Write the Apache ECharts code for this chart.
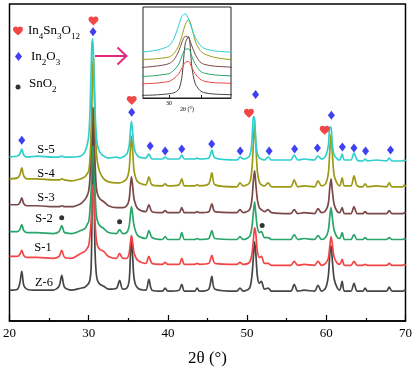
<!DOCTYPE html>
<html>
<head>
<meta charset="utf-8">
<script src="https://cdn.jsdelivr.net/npm/echarts@6/dist/echarts.min.js"></script>
<style>
html,body{margin:0;padding:0;background:#fff;}
#c{width:415px;height:372px;}
</style>
</head>
<body>
<div id="c"></div>
<script>
// 2θ sample positions (degrees)
const theta = [
20, 21.0, 21.3, 21.55, 21.8, 22.2,
23.5, 25.5, 26.25, 26.6, 26.95, 27.8,
29.0, 29.5, 29.8, 30.0, 30.15, 30.3, 30.4, 30.5, 30.6, 30.7, 30.8, 30.95, 31.1, 31.4, 31.9, 32.5,
33.5, 33.9, 34.3, 34.8, 35.1, 35.25, 35.4, 35.55, 35.75, 36.2,
37.2, 37.6, 38.0, 39.3, 39.65, 40.0, 41.4, 41.75, 42.1, 43.4, 43.7, 44.0,
45.15, 45.55, 45.95, 48.7, 49.1, 49.5,
50.3, 50.6, 50.8, 50.95, 51.1, 51.3, 51.55, 51.8, 52.2, 52.65, 53.1,
55.5, 55.95, 56.4, 57.2, 58.5, 58.95, 59.4,
59.9, 60.25, 60.45, 60.6, 60.75, 61.0, 61.4,
61.7, 62.0, 62.3, 63.1, 63.5, 63.9, 64.6, 64.9, 65.2, 66.3,
67.6, 67.95, 68.3, 69.6, 69.9, 70
];

// Intensities (a.u., stacked with offsets as in the figure)
const s5 = [
165,166,168,173,167,165,
166,165,165,166,165,165,
166,170,177,186,208,250,278,284,266,237,212,188,177,170,166,164,
165,164,165,168,176,190,201,190,174,166,
164,168,163,163,165,163,163,167,163,163,164,163,
164,172,164,162,165,163,
166,180,206,203,180,168,164,163,162,165,162,
162,167,162,163,162,166,163,
166,176,195,195,178,167,163,
162,168,162,162,169,162,161,163,161,162,
161,164,161,161,162,161
];
const s4 = [
143,144,147,154,146,143,
143,142,142,143,142,141,
143,145,148,151,162,187,218,252,267,241,201,172,160,150,143,140,
139,139,140,143,152,170,186,172,150,140,
137,145,137,136,138,136,137,143,136,136,137,136,
138,149,137,135,139,136,
139,152,180,200,178,150,140,137,136,139,135,
135,142,135,136,135,141,136,
138,148,172,188,170,146,138,
136,144,136,136,146,136,135,138,135,136,
135,139,135,135,137,135
];
const s3 = [
117,117,119,124,118,116,
116,115,115,116,115,115,
118,122,126,131,143,170,198,215,210,185,160,136,128,123,120,116,
114,114,114,116,122,135,145,136,122,113,
110,117,110,109,111,109,109,114,109,109,110,109,
110,118,110,109,112,109,
112,122,142,151,138,122,114,112,110,112,109,
108,112,108,109,108,113,109,
111,118,135,143,132,117,110,
109,114,108,108,115,108,108,110,108,108,
108,111,108,108,109,108
];
const s2 = [
90,90,92,97,91,89,
89,88,90,96,89,88,
91,93,97,100,111,130,155,175,176,152,130,108,101,96,93,89,
88,92,88,89,95,106,115,107,95,86,
83,91,84,82,85,82,82,89,82,82,83,82,
83,91,83,82,85,82,
85,94,110,120,108,94,89,90,84,84,82,
82,87,82,83,82,86,82,
84,91,106,114,105,91,84,
83,89,82,82,87,82,82,84,82,82,
82,84,82,82,83,82
];
const s1 = [
65,65,67,71,66,64,
64,63,65,71,64,63,
68,70,73,76,85,100,118,135,137,118,100,83,76,72,70,65,
63,68,63,63,68,78,86,79,68,61,
58,65,58,57,59,57,57,63,57,57,58,57,
58,66,58,57,59,57,
59,67,82,94,88,70,64,65,58,58,56,
56,60,56,57,56,60,56,
58,63,76,85,78,64,58,
57,62,56,56,60,56,56,57,56,56,
56,58,56,56,57,56
];
const z6 = [
31,32,38,50,36,32,
31,31,35,46,34,31,
33,34,36,38,41,52,95,195,214,120,70,48,41,37,35,32,
33,41,32,33,40,62,86,65,42,33,
31,42,31,30,33,30,31,37,30,30,33,30,
32,45,32,30,33,30,
33,45,65,80,68,45,38,40,32,33,30,
30,37,30,31,30,36,30,
33,45,68,76,62,42,33,
31,40,30,30,38,30,30,33,30,30,
30,34,30,30,31,30
];

const sampleNames = ['Z-6', 'S-1', 'S-2', 'S-3', 'S-4', 'S-5'];
const sampleData = [z6, s1, s2, s3, s4, s5];

// Phase marker positions [2θ, intensity]
const heartMarks = [[30.6, 302], [35.43, 222], [50.23, 209], [59.8, 192]];
const diamondMarks = [[21.55, 182], [30.55, 291], [35.43, 210], [37.76, 176], [39.65, 171], [41.75, 173],
  [45.53, 178], [49.13, 171], [51.07, 228], [52.78, 171], [56.0, 173], [58.88, 174], [60.64, 207],
  [62.03, 175], [63.49, 174], [64.96, 171], [68.11, 172]];
const dotMarks = [[26.59, 104], [33.9, 100], [51.9, 96]];

const phaseNames = ['In4Sn3O12', 'In2O3', 'SnO2'];

const colors = ['#464646', '#F24646', '#2AA56A', '#7A4848', '#9C9A14', '#2ECFCF'];
const FONT = 'Liberation Serif';
const heartPath = 'path://M12 21.35l-1.45-1.32C5.4 15.36 2 12.28 2 8.5 2 5.42 4.42 3 7.5 3c1.74 0 3.41.81 4.5 2.09C13.09 3.81 14.76 3 16.5 3 19.58 3 22 5.42 22 8.5c0 3.78-3.4 6.86-8.55 11.54L12 21.35z';
const markStyles = [
  { symbol: heartPath, symbolSize: [10, 9], color: '#F01818' },
  { symbol: 'diamond', symbolSize: [7, 9], color: '#1010F0' },
  { symbol: 'circle', symbolSize: 5, color: '#000' }
];

const pairs = arr => theta.map((t, i) => [t, arr[i]]);

const series = [];
sampleData.forEach((arr, k) => {
  series.push({
    name: sampleNames[k], type: 'line', xAxisIndex: 0, yAxisIndex: 0,
    data: pairs(arr), showSymbol: false, smooth: 0.3,
    lineStyle: { color: colors[k], width: 1.7 }, z: 2 + k, animation: false
  });
});
sampleData.forEach((arr, k) => {
  series.push({
    name: sampleNames[k] + ' inset', type: 'line', xAxisIndex: 1, yAxisIndex: 1,
    data: pairs(arr), showSymbol: false, smooth: 0.3, clip: true,
    lineStyle: { color: colors[k], width: 1 }, z: 20 + k, animation: false
  });
});
[heartMarks, diamondMarks, dotMarks].forEach((m, k) => {
  series.push({ name: phaseNames[k], type: 'scatter', data: m, symbol: markStyles[k].symbol,
    symbolSize: markStyles[k].symbolSize, itemStyle: { color: markStyles[k].color }, z: 30, animation: false });
});

const labelPos = [[44, 283], [43, 248], [44, 219], [46, 198], [46, 174], [46, 150]];
const graphics = sampleNames.map((n, k) => ({
  type: 'text', x: labelPos[k][0], y: labelPos[k][1], z: 50,
  style: { text: n, fontFamily: FONT, fontSize: 12.5, fill: '#000', align: 'center', verticalAlign: 'middle' }
}));
const rich = {
  n: { fontFamily: FONT, fontSize: 13, lineHeight: 20, verticalAlign: 'middle', color: '#000' },
  s: { fontFamily: FONT, fontSize: 9, lineHeight: 9, verticalAlign: 'bottom', color: '#000' }
};
graphics.push(
  { type: 'text', x: 28, y: 31, style: { text: '{n|In}{s|4}{n|Sn}{s|3}{n|O}{s|12}', rich: rich, verticalAlign: 'middle' } },
  { type: 'text', x: 31, y: 57, style: { text: '{n|In}{s|2}{n|O}{s|3}', rich: rich, verticalAlign: 'middle' } },
  { type: 'text', x: 29, y: 84, style: { text: '{n|SnO}{s|2}', rich: rich, verticalAlign: 'middle' } },
  { type: 'polyline', shape: { points: [[95, 56], [126, 56]] }, style: { stroke: '#E8287E', lineWidth: 2 } },
  { type: 'polyline', shape: { points: [[117.5, 47.5], [126.5, 56], [117.5, 64.5]] }, style: { stroke: '#E8287E', lineWidth: 2 } }
);

const chart = echarts.init(document.getElementById('c'), null, { renderer: 'canvas' });
const option = {
  backgroundColor: '#fff',
  animation: false,
  grid: [
    { left: 9, right: 9, top: 4, bottom: 49, show: true, borderColor: '#000', borderWidth: 1.5, backgroundColor: 'transparent' },
    { left: 143, top: 7, width: 88, height: 91, show: true, borderColor: '#222', borderWidth: 1, backgroundColor: '#fff', z: 10 }
  ],
  xAxis: [
    { type: 'value', gridIndex: 0, min: 20, max: 70, interval: 10,
      axisLine: { lineStyle: { color: '#000', width: 1.5 } },
      axisTick: { inside: true, length: 6, lineStyle: { color: '#000', width: 1.2 } },
      minorTick: { show: true, splitNumber: 2, length: 3, lineStyle: { color: '#000', width: 1.2 } },
      axisLabel: { color: '#000', fontFamily: FONT, fontSize: 13, margin: 6 },
      splitLine: { show: false },
      name: '2θ (°)', nameLocation: 'middle', nameGap: 29,
      nameTextStyle: { color: '#000', fontFamily: FONT, fontSize: 17 } },
    { type: 'value', gridIndex: 1, min: 29.2, max: 31.9,
      axisLine: { lineStyle: { color: '#222', width: 1 } },
      axisTick: { inside: true, length: 3, lineStyle: { color: '#222' }, customValues: [30, 31] },
      axisLabel: { color: '#000', fontFamily: FONT, fontSize: 6, margin: 2, customValues: [30] },
      splitLine: { show: false },
      name: '2θ (°)', nameLocation: 'middle', nameGap: 7,
      nameTextStyle: { color: '#000', fontFamily: FONT, fontSize: 6 }, z: 12 }
  ],
  yAxis: [
    { type: 'value', gridIndex: 0, min: 0, max: 319, show: false },
    { type: 'value', gridIndex: 1, min: 25, max: 305, show: false }
  ],
  series: series,
  graphic: graphics
};
chart.setOption(option);

// legend symbols: place scatter symbols at the legend pixel spots
const legendPix = [[18, 31], [18.5, 56.5], [18, 87]];
const legendSeries = legendPix.map((p, k) => ({
  name: phaseNames[k] + ' key', type: 'scatter', xAxisIndex: 0, yAxisIndex: 0,
  data: [chart.convertFromPixel({ gridIndex: 0 }, p)],
  symbol: markStyles[k].symbol, symbolSize: markStyles[k].symbolSize,
  itemStyle: { color: markStyles[k].color }, z: 30, animation: false
}));
chart.setOption({ series: series.concat(legendSeries) });
</script>
</body>
</html>
